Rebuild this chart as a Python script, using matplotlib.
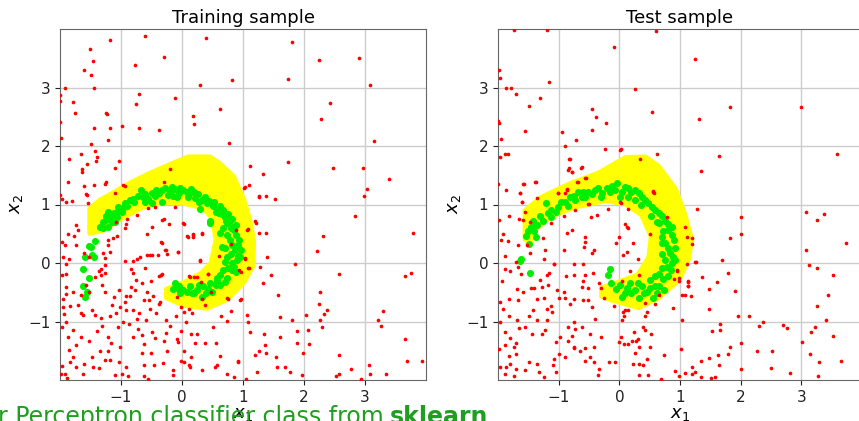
import matplotlib
matplotlib.use("Agg")
import matplotlib.pyplot as plt

# ---- training sample ----
train_bkg = [
    (-2.0, 2.87), (-2.0, 2.77), (-1.92, 3.0), (-1.51, 3.65), (-1.46, 3.46), (-1.61, 3.30), (-1.49, 3.22),
    (-1.44, 3.0), (-1.18, 3.81), (-0.61, 3.88), (0.39, 3.85), (-0.77, 3.39), (-0.30, 3.52), (-1.79, 2.75),
    (-1.76, 2.57), (-2.0, 2.41), (-1.98, 2.13), (-1.45, 2.31), (-1.25, 2.57), (-1.23, 2.55), (-1.18, 2.30),
    (-1.22, 2.10), (-1.49, 2.03), (-0.99, 2.34), (-0.76, 2.72), (-0.71, 2.89), (-0.70, 2.30), (-0.38, 2.28),
    (-0.12, 2.82), (0.18, 2.52), (0.19, 2.38), (0.30, 3.04), (0.63, 2.64), (0.82, 3.12), (0.77, 2.05),
    (1.74, 3.15), (1.81, 3.78), (2.24, 3.47), (2.90, 3.51), (3.08, 3.04), (2.42, 2.74), (2.28, 2.47),
    (3.15, 2.09), (-1.43, 1.92), (-1.39, 1.81), (-1.41, 1.75), (-1.66, 1.86), (-1.56, 1.70), (-1.64, 1.60),
    (-1.64, 1.55), (-1.85, 1.77), (-1.87, 1.38), (-1.61, 1.31), (-1.45, 1.33), (-1.26, 1.35), (-1.25, 1.38),
    (-1.10, 1.62), (-1.04, 1.74), (-0.96, 1.34), (-0.94, 1.32), (-1.57, 1.18), (-1.56, 1.16), (-1.54, 1.03),
    (-2.0, 1.16), (-1.96, 1.09), (-1.90, 1.05), (-1.80, 1.06), (-1.10, 1.19), (-0.20, 1.61), (-0.30, 1.39),
    (1.12, 1.66), (1.32, 1.52), (1.03, 1.30), (1.10, 1.33), (1.27, 1.14), (1.37, 1.14), (1.53, 1.09),
    (1.74, 1.72), (2.47, 1.63), (2.97, 1.63), (3.40, 1.43), (3.03, 1.27), (2.99, 1.14),
    (-0.56, 0.94), (-0.45, 0.96), (-0.12, 0.95), (-0.90, 0.76), (-0.30, 0.75), (0.02, 0.69), (1.02, 1.29),
    (1.26, 1.13), (1.20, 0.71), (1.08, 0.58), (0.33, 0.51), (0.18, 0.48), (0.09, 0.46), (-0.34, 0.36),
    (-0.28, 0.22), (-0.06, 0.19), (-0.50, 0.14), (-0.39, 0.14), (0.30, 0.05), (0.60, 0.12), (-0.34, -0.21),
    (0.12, -0.23), (0.19, -0.24), (0.43, -0.18), (0.93, -0.12), (1.09, -0.09), (1.04, 0.08), (1.07, 0.56),
    (1.26, 0.51), (0.74, -0.60), (0.96, -0.62), (-0.36, -0.66), (-0.09, -0.58),
    (2.84, 0.80), (2.31, 0.47), (3.78, 0.51), (2.21, 0.20), (1.86, -0.01), (3.65, -0.22), (3.76, -0.17),
    (2.57, -0.19), (1.21, 0.69), (1.38, 0.51), (1.40, 0.11), (1.10, -0.09), (1.28, -0.07), (1.46, -0.21),
    (1.32, -0.34), (1.57, -0.54), (2.26, -0.49), (2.25, -0.70), (2.38, -0.81), (2.33, -0.88), (2.27, -0.98),
    (2.29, -1.09), (2.03, -0.89), (1.80, -0.97), (1.60, -0.93), (1.88, -1.17), (2.07, -1.14), (3.30, -0.82),
    (3.21, -0.97), (3.27, -1.07), (3.66, -1.30), (3.69, -1.68), (3.94, -1.67), (3.06, -1.74), (3.09, -1.90),
    (3.34, -1.89), (2.57, -1.58), (2.77, -1.82), (2.94, -1.98), (2.52, -1.93), (2.57, -1.90), (1.98, -1.54),
    (2.08, -1.38), (1.88, -1.37), (1.97, -1.91), (1.77, -1.87), (1.69, -1.77), (1.55, -1.77), (1.54, -1.61),
    (1.60, -1.27), (1.35, -1.21), (1.36, -1.41), (1.38, -1.54), (1.27, -1.50), (1.20, -1.58), (1.23, -1.86),
    (1.09, -1.01), (1.11, -1.18), (1.07, -0.89), (0.75, -0.61), (0.95, -0.63), (0.80, -0.82), (0.64, -0.90),
    (0.74, -0.99), (0.50, -1.10), (0.37, -1.37), (0.55, -1.37), (0.63, -1.59), (0.58, -1.74), (0.54, -1.77),
    (0.74, -1.90), (0.91, -1.70), (0.91, -1.67), (1.05, -1.99), (0.85, -1.95), (0.33, -1.83), (0.13, -1.78),
    (0.14, -1.60), (0.12, -1.75), (-0.02, -1.68), (0.04, -1.69), (-0.14, -1.83), (-0.14, -1.91), (-0.31, -1.71),
    (-0.46, -1.74), (-0.51, -1.54), (-0.66, -1.54), (-0.63, -1.75), (-0.63, -1.94), (-0.56, -1.98), (-0.92, -1.77),
    (-0.99, -1.89), (-1.10, -1.91), (-0.89, -1.94), (-1.03, -1.70), (-1.18, -1.66), (-1.36, -1.80), (-1.46, -1.77),
    (-1.48, -1.60), (-1.35, -1.50), (-1.22, -1.51), (-1.27, -1.66), (-1.60, -1.73), (-1.62, -1.90), (-1.74, -1.78),
    (-1.83, -1.70), (-1.97, -1.76), (-1.99, -1.89), (-1.92, -1.90), (-1.88, -1.97), (-1.78, -1.61), (-1.85, -1.48),
    (-1.73, -1.40), (-1.87, -1.27), (-1.79, -1.15), (-1.97, -1.10), (-1.90, -1.01), (-1.94, -0.88), (-1.84, -0.73),
    (-1.70, -0.71), (-1.65, -0.86), (-1.62, -0.89), (-1.48, -0.80), (-1.43, -0.89), (-1.33, -0.94), (-1.31, -1.08),
    (-1.40, -1.17), (-1.53, -1.33), (-1.66, -1.27), (-1.18, -0.91), (-1.08, -0.85), (-1.01, -0.75), (-0.92, -0.81),
    (-0.97, -1.01), (-1.05, -1.10), (-1.21, -1.26), (-1.16, -1.37), (-0.87, -1.04), (-0.74, -0.95), (-0.80, -0.81),
    (-0.72, -1.13), (-0.66, -1.23), (-0.63, -1.39), (-0.81, -1.27), (-1.01, -1.44), (-0.59, -0.97), (-0.52, -0.79),
    (-0.43, -0.86), (-0.26, -0.97), (-0.20, -1.07), (-0.26, -1.19), (-0.29, -1.34), (-0.24, -1.51), (-0.02, -1.17),
    (0.06, -1.01), (0.15, -1.21), (0.21, -1.37), (-0.10, -0.91), (-0.01, -0.75), (0.11, -0.78), (0.16, -0.85),
    (0.37, -0.71), (-0.37, -0.70), (-0.47, -0.57), (-0.57, -0.50), (-0.51, -0.30), (-0.37, -0.23), (-0.33, -0.19),
    (-0.65, -0.34), (-0.81, -0.17), (-0.84, -0.41), (-0.77, -0.47), (-0.85, -0.56), (-0.94, -0.67), (-0.91, -0.57),
    (-1.12, -0.58), (-1.04, -0.46), (-1.14, -0.71), (-1.27, -0.49), (-1.31, -0.38), (-1.36, -0.14), (-1.33, -0.10),
    (-1.26, -0.17), (-1.26, -0.04), (-1.26, 0.09), (-1.29, 0.17), (-1.18, 0.19), (-1.22, 0.30), (-1.21, 0.40),
    (-1.13, 0.43), (-1.06, 0.47), (-0.93, 0.59), (-0.91, 0.67), (-1.09, 0.70), (-0.74, 0.82), (-0.58, 0.49),
    (-0.49, 0.61), (-0.32, 0.35), (-0.27, 0.22), (-0.25, 0.15), (-0.06, 0.19), (-0.32, 0.74), (-0.21, 0.67),
    (0.04, 0.67), (0.10, 0.45), (0.18, 0.45), (0.18, 0.49), (0.33, 0.49), (0.29, 0.03), (-0.58, 0.14),
    (-0.52, 0.14), (-0.69, 0.10), (-0.73, 0.07), (-0.80, 0.03), (-0.93, 0.03), (-0.61, -0.08), (-0.84, -0.11),
    (-1.52, 0.10), (-1.61, 0.17), (-1.74, 0.30), (-1.77, 0.46), (-1.73, 0.65), (-1.70, 0.56), (-1.87, 0.49),
    (-1.92, 0.30), (-1.97, 0.36), (-1.95, 0.10), (-1.90, -0.01), (-1.85, 0.06), (-1.96, -0.21), (-1.90, -0.18),
    (-1.90, -0.41), (-1.79, -0.50), (-1.90, -0.53), (-1.57, -0.37), (-1.65, -0.54), (-1.53, -0.50), (-1.32, -0.21),
    (-1.43, -0.24), (-1.95, -0.61), (-1.95, -0.75), (0.31, -0.33), (0.42, -0.18), (0.13, -0.24), (0.24, -0.24),
    (0.96, -0.15), (1.04, 0.07), (0.88, 0.56), (0.80, 0.33), (0.47, -0.50), (0.33, -0.61), (0.03, -0.84),
    (0.25, -1.21), (-0.08, -1.30), (-0.07, -1.35), (0.04, -1.50), (-0.49, -1.18), (-0.45, -1.28), (-0.71, -0.85),
    (-0.63, -0.64), (-0.54, -0.64), (-0.75, -0.29),
]

train_sig = [
    (-1.22, 0.62), (-1.24, 0.74), (-1.16, 0.82), (-1.05, 0.96), (-1.08, 0.85), (-0.94, 1.02), (-0.86, 1.08),
    (-0.78, 1.05), (-0.67, 1.25), (-0.64, 1.13), (-0.50, 1.19), (-0.42, 1.25), (-0.28, 1.29), (-0.17, 1.30),
    (-0.03, 1.28), (-0.23, 1.16), (-0.09, 1.13), (0.08, 1.22), (0.19, 1.22), (0.21, 1.11), (0.33, 1.08),
    (0.41, 1.02), (0.52, 1.05), (0.57, 0.93), (0.68, 0.91), (0.71, 0.79), (0.82, 0.76), (0.79, 0.65),
    (0.46, 0.71), (0.30, 0.93), (-0.50, 1.02), (-0.33, 1.05), (-0.99, 0.88), (-1.22, 0.88), (-1.35, 0.62),
    (-1.24, 0.80), (-1.29, 0.59), (-1.15, 0.70), (-1.07, 0.79),
    (0.74, 0.68), (0.85, 0.56), (0.93, 0.39), (0.79, 0.39), (0.87, 0.22), (0.74, 0.11), (0.90, 0.05),
    (0.82, -0.12), (0.68, -0.12), (0.57, -0.26), (0.74, -0.26), (0.46, -0.35), (0.35, -0.40), (0.63, -0.38),
    (0.24, -0.46), (0.13, -0.40), (0.02, -0.46), (-0.09, -0.43), (-0.12, -0.35), (-0.03, -0.52), (0.33, -0.58),
    (0.16, -0.52), (0.49, -0.49), (0.66, 0.28), (0.63, 0.51), (0.46, 0.68), (0.85, -0.06), (0.96, 0.22),
    (-1.30, 0.70), (-1.18, 0.75), (-1.12, 0.86), (-1.00, 0.92), (-0.90, 0.98), (-0.80, 1.10), (-0.72, 1.15),
    (-0.60, 1.18), (-0.55, 1.10), (-0.45, 1.15), (-0.38, 1.20), (-0.32, 1.24), (-0.20, 1.22), (-0.12, 1.27),
    (-0.05, 1.20), (0.02, 1.25), (0.12, 1.18), (0.15, 1.26), (0.26, 1.18), (0.28, 1.05), (0.38, 1.12),
    (0.45, 1.06), (0.50, 0.98), (0.62, 0.98), (0.60, 0.86), (0.66, 0.83), (0.75, 0.84), (0.72, 0.72),
    (0.80, 0.60), (0.68, 0.60), (0.88, 0.48), (0.74, 0.48), (0.82, 0.30), (0.70, 0.25), (0.92, 0.30),
    (0.80, 0.15), (0.70, 0.02), (0.82, 0.00), (0.92, 0.12), (0.76, -0.08), (0.62, -0.20), (0.70, -0.32),
    (0.55, -0.38), (0.42, -0.44), (0.28, -0.38), (0.20, -0.52), (0.08, -0.50), (-0.05, -0.40), (-0.15, -0.45),
    (0.40, -0.52), (0.58, -0.30), (0.88, -0.15), (0.95, 0.10), (0.88, 0.65), (0.55, 0.88), (0.10, 1.12),
    (-0.15, 1.15), (-0.60, 1.05), (-0.95, 0.95), (-1.10, 0.70),
    (-1.59, 0.10), (-1.52, 0.29), (-1.43, 0.37), (-1.50, 0.27), (-1.47, 0.13), (-1.44, 0.10), (-1.62, -0.10),
    (-1.53, -0.26), (-1.63, -0.40), (-1.55, -0.49), (-1.59, -0.58),
]

# region the classifier calls signal (outline of the yellow band)
train_region = [
    (-1.52, 0.50), (-1.52, 0.93), (-1.35, 1.08), (-1.19, 1.17), (-0.86, 1.37), (-0.53, 1.54), (-0.20, 1.69),
    (0.10, 1.82), (0.46, 1.82), (0.63, 1.70), (0.85, 1.48), (1.02, 1.08), (1.12, 0.72), (1.18, 0.39),
    (1.17, -0.05), (1.02, -0.33), (0.74, -0.63), (0.41, -0.78), (0.02, -0.73), (-0.26, -0.60), (-0.26, -0.44),
    (0.02, -0.33), (0.30, -0.18), (0.47, 0.0), (0.55, 0.39), (0.50, 0.75), (0.35, 0.93), (0.02, 1.02),
    (-0.30, 1.03), (-0.64, 0.95), (-1.02, 0.74), (-1.30, 0.55),
]

# ---- test sample ----
test_bkg = [
    (-1.73, 3.98), (-1.19, 3.98), (0.61, 3.96), (-0.09, 3.69), (-1.99, 3.30), (-1.97, 3.16), (-1.87, 2.99),
    (-1.78, 2.99), (-1.71, 2.89), (-1.16, 3.09), (0.25, 2.98), (1.24, 3.49), (-2.0, 2.42), (-1.99, 2.39),
    (-1.95, 2.12), (-1.55, 2.26), (-1.49, 2.69), (-1.31, 2.82), (-0.45, 2.63), (-0.39, 2.50), (-0.22, 2.40),
    (-0.45, 2.27), (-0.95, 2.24), (-0.89, 2.00), (-0.71, 2.11), (-0.23, 1.95), (0.02, 1.95), (0.01, 1.93),
    (0.54, 2.58), (1.31, 2.46), (1.83, 2.66), (3.0, 2.67), (0.62, 1.86), (1.64, 1.83), (3.59, 1.87),
    (0.34, 1.77), (-1.96, 1.81), (-1.89, 1.86), (-1.83, 1.87), (-0.83, 1.77), (-0.83, 1.62), (-0.78, 1.56),
    (-0.63, 1.63), (-0.55, 1.45), (-0.68, 1.38), (-0.86, 1.26), (-1.01, 1.20), (-1.38, 1.39), (-1.57, 1.35),
    (-1.63, 1.20), (-1.60, 1.05), (-1.86, 1.25), (-2.0, 1.35), (1.35, 1.57), (0.56, 1.23), (0.57, 1.19),
    (-0.50, 1.01), (0.03, 1.03),
    (-0.82, 1.77), (-0.85, 1.59), (-0.78, 1.55), (-0.62, 1.64), (-0.57, 1.45), (-0.69, 1.38), (-1.39, 1.39),
    (-1.58, 1.35), (-1.63, 1.19), (-1.61, 1.05), (-1.36, 1.11), (-1.01, 1.19), (-0.90, 1.20), (-0.86, 1.25),
    (-0.51, 1.01), (-0.73, 0.91), (-0.91, 0.80), (-1.12, 0.68), (-0.46, 0.79), (-0.36, 0.82), (-0.18, 0.92),
    (0.01, 1.05), (0.15, 0.93), (1.28, 0.93), (1.09, 0.62), (0.12, 0.62), (-1.65, 0.76), (-1.59, 0.74),
    (0.56, 1.22), (1.12, 0.45), (1.26, 0.02), (0.95, -0.12), (0.98, -0.26), (1.14, -0.32), (1.14, -0.40),
    (1.08, -0.55),
    (2.01, 0.79), (2.0, 0.49), (1.83, 0.43), (3.08, 0.87), (3.26, 0.73), (3.37, 0.83), (3.74, 0.35),
    (3.08, 0.23), (3.12, -0.03), (3.26, -0.09), (3.52, -0.20), (3.44, -0.54), (3.26, -0.73), (3.41, -0.97),
    (3.22, -1.10), (3.16, -1.18), (3.52, -1.25), (3.01, -1.35), (3.15, -1.55), (3.29, -1.69), (3.27, -1.94),
    (3.65, -1.67), (2.81, -1.88), (2.50, -1.79), (2.52, -1.50), (2.27, -1.51), (2.37, -1.00), (2.31, -1.07),
    (2.13, -0.91), (1.95, -0.90), (2.69, -1.06), (2.76, -1.11), (2.0, -1.36), (2.01, -1.81), (1.83, -1.44),
    (1.79, -1.55), (1.64, -1.74), (1.58, -1.95), (1.51, -1.97), (1.35, -1.95), (1.20, -1.90), (1.25, -1.86),
    (1.09, -1.88), (1.20, -1.77), (1.35, -1.67), (1.62, -1.58), (1.48, -1.63), (1.53, -1.17), (1.66, -1.15),
    (1.66, -1.05), (1.47, -0.79), (1.90, -0.48), (1.79, -0.17), (1.70, 0.05), (1.61, -0.33), (1.48, -0.44),
    (1.36, -0.24), (1.25, 0.01), (1.14, -0.31), (1.13, -0.40), (1.18, -0.57), (1.04, -0.55), (0.88, -0.77),
    (1.03, -0.97), (1.01, -1.47), (0.73, -1.58), (0.92, -1.84), (0.98, -1.94), (0.68, -1.98), (0.47, -1.91),
    (0.33, -1.91), (0.33, -1.73), (0.22, -1.73), (0.46, -1.64), (0.39, -1.74), (0.32, -1.44), (0.26, -1.54),
    (0.15, -1.38), (0.21, -1.34), (0.27, -1.33), (0.31, -1.30), (0.24, -1.18), (0.39, -1.10), (0.43, -1.14),
    (0.52, -1.22), (0.51, -1.44), (-0.01, -1.35), (0.03, -1.27), (0.07, -1.38), (0.04, -0.97), (0.07, -0.91),
    (0.10, -0.80), (0.14, -0.81), (-0.08, -0.74), (0.06, -0.83), (0.43, -0.90), (0.46, -0.84), (0.59, -0.70),
    (0.42, -0.68), (-0.07, -1.70), (-0.17, -1.70), (-0.34, -1.81), (-0.35, -1.92), (-0.42, -1.70), (-0.56, -1.68),
    (-0.48, -1.61), (-0.65, -1.50), (-0.75, -1.43), (-0.84, -1.34), (-0.78, -1.25), (-0.84, -1.10), (-0.74, -1.46),
    (-0.97, -1.26), (-1.04, -1.35), (-1.0, -1.55), (-0.89, -1.61), (-1.08, -1.64), (-1.09, -1.74), (-1.04, -1.87),
    (-1.25, -1.95), (-1.33, -1.87), (-1.36, -1.73), (-1.49, -1.70), (-1.55, -1.83), (-1.70, -1.82), (-1.74, -1.94),
    (-1.89, -1.90), (-1.97, -1.77), (-1.86, -1.77), (-1.80, -1.73), (-1.82, -1.59), (-1.70, -1.55), (-1.99, -1.47),
    (-1.89, -1.41), (-1.74, -1.44), (-1.70, -1.37), (-1.80, -1.28), (-1.89, -1.18), (-1.66, -1.11), (-1.55, -1.09),
    (-1.69, -0.97), (-1.82, -0.91), (-1.97, -1.00), (-1.91, -0.78), (-1.97, -0.67), (-1.82, -0.61), (-1.67, -0.63),
    (-1.58, -0.50), (-1.69, -0.44), (-1.42, -0.81), (-1.49, -0.91), (-1.36, -0.98), (-1.44, -1.21), (-1.27, -1.21),
    (-1.22, -1.14), (-1.19, -0.97), (-1.11, -0.84), (-1.19, -0.78), (-1.12, -0.73), (-1.25, -0.59), (-1.36, -0.61),
    (-1.46, -0.42), (-1.41, -0.42), (-1.27, -0.41), (-1.18, -0.37), (-1.30, -0.29), (-1.16, -0.17), (-1.19, -0.21),
    (-1.07, -0.01), (-1.02, -0.47), (-0.92, -0.50), (-0.89, -0.60), (-1.0, -0.60), (-0.81, -0.70), (-0.74, -0.61),
    (-0.62, -0.41), (-0.52, -0.42), (-0.60, -0.64), (-0.51, -0.64), (-0.45, -0.75), (-0.60, -0.31), (-0.88, -0.22),
    (-0.74, -0.21), (-0.57, -0.21), (-0.44, -0.17), (-0.34, -0.35), (-0.31, -0.42), (-0.26, -0.59), (-0.40, -0.95),
    (-0.31, -1.27), (-0.49, -1.21), (-0.62, -1.10), (-0.73, -1.13), (-0.41, -1.44), (-0.57, -1.46), (-0.75, -1.00),
    (-0.60, -0.01), (-0.74, -0.01), (-0.59, 0.27), (-0.45, 0.17), (-0.41, 0.22), (-0.57, 0.45), (-0.56, 0.36),
    (-0.87, 0.52), (-0.78, 0.56), (-0.92, 0.23), (-1.07, -0.02), (-1.25, 0.06), (-1.47, 0.17), (-1.53, 0.30),
    (-1.67, 0.31), (-1.84, 0.38), (-1.95, 0.39), (-1.91, 0.50), (-1.99, 0.73), (-1.82, 0.81), (-1.88, 0.12),
    (-1.70, 0.01), (-1.80, -0.13), (-1.88, -0.11), (-1.67, -0.07), (-1.93, -0.31), (-1.62, -0.18), (-1.55, 0.87),
    (-1.47, 0.70), (-1.26, 0.42), (-1.22, 0.22), (0.10, 0.66), (0.0, 0.45), (-0.05, 0.34), (0.14, 0.59),
    (0.51, 0.50), (0.30, 0.06), (0.06, 0.13), (0.12, 0.19), (0.18, -0.13), (0.05, -0.30), (0.32, -0.21),
    (0.22, 0.34), (0.65, -0.55), (0.90, -0.28), (0.98, -0.30), (0.95, -0.14), (1.20, 0.33), (1.19, 0.42),
    (1.12, -0.01), (0.79, 0.79),
]

test_sig = [
    (-1.43, 0.71), (-1.26, 0.71), (-1.21, 1.02), (-1.12, 0.91), (-1.01, 0.96), (-0.96, 1.05), (-0.82, 1.13),
    (-0.68, 1.22), (-0.73, 1.08), (-0.51, 1.22), (-0.40, 1.25), (-0.29, 1.19), (-0.21, 1.28), (-0.04, 1.36),
    (-0.07, 1.25), (0.09, 1.30), (0.01, 1.13), (0.20, 1.22), (0.32, 1.19), (0.43, 1.08), (0.26, 1.08),
    (0.54, 0.96), (0.65, 0.85), (0.76, 0.71), (0.87, 0.62), (-0.57, 1.13), (-1.12, 0.79),
    (0.65, 0.68), (0.81, 0.56), (0.90, 0.39), (0.76, 0.34), (0.84, 0.17), (0.92, 0.05), (0.78, -0.06),
    (0.65, -0.18), (0.81, -0.23), (0.51, -0.29), (0.59, -0.40), (0.37, -0.40), (0.26, -0.46), (0.12, -0.43),
    (0.01, -0.38), (0.04, -0.58), (0.32, -0.60), (0.45, -0.49), (0.73, -0.46), (0.87, 0.00), (0.70, 0.45),
    (-1.35, 0.65), (-1.30, 0.80), (-1.18, 0.85), (-1.05, 0.88), (-0.90, 1.05), (-0.85, 0.98), (-0.75, 1.15),
    (-0.62, 1.12), (-0.60, 1.22), (-0.45, 1.18), (-0.35, 1.28), (-0.30, 1.12), (-0.15, 1.22), (-0.12, 1.32),
    (0.05, 1.22), (0.15, 1.28), (0.14, 1.12), (0.25, 1.24), (0.38, 1.12), (0.48, 1.02), (0.35, 1.00),
    (0.58, 0.90), (0.52, 0.80), (0.70, 0.80), (0.62, 0.70), (0.80, 0.66), (0.72, 0.55), (0.86, 0.48),
    (0.70, 0.35), (0.80, 0.25), (0.92, 0.25), (0.70, 0.15), (0.88, 0.10), (0.75, 0.05), (0.70, -0.08),
    (0.85, -0.12), (0.58, -0.22), (0.72, -0.28), (0.66, -0.40), (0.50, -0.42), (0.40, -0.52), (0.20, -0.52),
    (0.10, -0.52), (-0.05, -0.45), (0.18, -0.35), (0.30, -0.35), (0.62, -0.52), (0.55, -0.60),
    (-1.50, 0.55), (-1.38, 0.45),
    (-0.15, -0.10), (-0.19, -0.21), (-0.13, -0.35),
    (-1.54, 0.47), (-1.49, 0.33), (-1.40, 0.55), (-1.45, 0.62), (-1.62, 0.06), (-1.63, 0.03), (-1.48, -0.17),
]

test_region = [
    (-1.56, 0.40), (-1.56, 0.90), (-1.29, 1.13), (-0.80, 1.37), (-0.35, 1.54), (0.10, 1.81), (0.43, 1.82),
    (0.65, 1.66), (0.93, 1.27), (1.08, 0.85), (1.20, 0.39), (1.14, 0.05), (0.99, -0.29), (0.65, -0.60),
    (0.32, -0.77), (-0.13, -0.64), (-0.30, -0.57), (-0.30, -0.42), (-0.02, -0.32), (0.30, -0.20), (0.48, 0.10),
    (0.52, 0.45), (0.36, 0.82), (0.10, 1.00), (-0.23, 1.06), (-0.73, 0.95), (-1.13, 0.79), (-1.39, 0.56),
    (-1.45, 0.35),
]

ticks = [-1, 0, 1, 2, 3]
panels = [
    ("Training sample", train_bkg, train_sig, train_region),
    ("Test sample", test_bkg, test_sig, test_region),
]

fig = plt.figure(figsize=(8.59, 4.21), dpi=100)
W, H = 859.0, 421.0
boxes = [(60, 29, 366, 351), (498, 29, 364, 351)]

for (title, bkg, sig, region), (l, t, w, h) in zip(panels, boxes):
    ax = fig.add_axes([l / W, (H - t - h) / H, w / W, h / H])
    ax.set_axisbelow(True)
    ax.grid(True, color="#cccccc", linewidth=1.0)
    ax.fill([p[0] for p in region], [p[1] for p in region], color="yellow",
            edgecolor="yellow", linewidth=3, joinstyle="round", zorder=2)
    ax.scatter([p[0] for p in sig], [p[1] for p in sig], s=26, color="#00ee00", lw=0, zorder=3)
    ax.scatter([p[0] for p in bkg], [p[1] for p in bkg], s=7, color="red", lw=0, zorder=4)
    ax.set_xlim(-2, 4)
    ax.set_ylim(-2, 4)
    ax.set_xticks(ticks)
    ax.set_yticks(ticks)
    ax.tick_params(labelsize=11, colors="#222222")
    for s in ax.spines.values():
        s.set_color("#666666")
    ax.set_title(title, fontsize=13, pad=4)
    ax.set_xlabel("$x_1$", fontsize=13, labelpad=0)
    ax.set_ylabel("$x_2$", fontsize=13, labelpad=2)

# slide text that runs across the bottom of the crop
green = "#1f9e1f"
t1 = fig.text(-2 / W, -3 / H, "r Perceptron classifier class from", fontsize=17,
              color=green, va="baseline", ha="left")
fig.canvas.draw()
bb = t1.get_window_extent()
fig.text((bb.x1 + 6) / W, -3 / H, "sklearn", fontsize=17, fontweight="bold",
         color=green, va="baseline", ha="left")

fig.savefig("out.png", dpi=100)
